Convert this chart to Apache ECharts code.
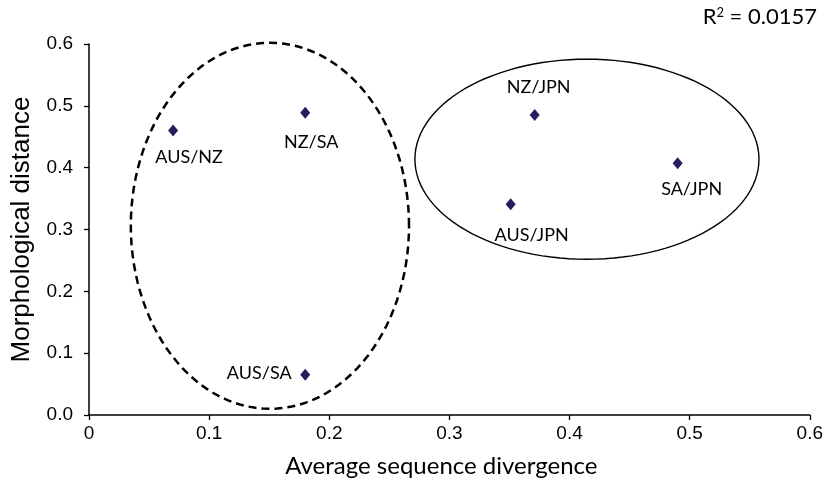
<!DOCTYPE html>
<html>
<head>
<meta charset="utf-8">
<script src="https://cdn.jsdelivr.net/npm/echarts@6/dist/echarts.min.js"></script>
<style>
  html, body { margin: 0; padding: 0; background: #fff; }
  #chart { width: 826px; height: 483px; }
</style>
</head>
<body>
<div id="chart"></div>
<script>
// pairwise comparisons
var pairNames = ['AUS/NZ', 'NZ/SA', 'AUS/SA', 'NZ/JPN', 'AUS/JPN', 'SA/JPN'];
var seqDivergence = [0.07, 0.18, 0.18, 0.371, 0.351, 0.49];
var morphDistance = [0.46, 0.489, 0.065, 0.485, 0.341, 0.407];

// grouping ellipses, in data units: [centre x, centre y, radius x, radius y]
var groupDashed = [0.1506, 0.306, 0.1158, 0.296];
var groupSolid = [0.4145, 0.4137, 0.1432, 0.1618];

var xTicks = [0, 0.1, 0.2, 0.3, 0.4, 0.5, 0.6];
var yTicks = [0, 0.1, 0.2, 0.3, 0.4, 0.5, 0.6];

// label nudges (px) per point
var labelOffsets = [[16, 27], [6, 30], [-46, -2], [4, -28], [21, 31], [14, 26]];

var chart = echarts.init(document.getElementById('chart'));

function ellipseItem(params, api) {
  var cx = api.value(0), cy = api.value(1), rx = api.value(2), ry = api.value(3);
  var pts = [];
  for (var i = 0; i < 120; i++) {
    var t = i / 120 * Math.PI * 2;
    pts.push(api.coord([cx + rx * Math.cos(t), cy + ry * Math.sin(t)]));
  }
  var dashed = api.value(4) === 1;
  return {
    type: 'polygon',
    shape: { points: pts },
    style: {
      fill: null,
      stroke: '#000',
      lineWidth: dashed ? 2.5 : 1.4,
      lineDash: dashed ? [8, 5] : null
    },
    silent: true
  };
}

var axisFont = 'Liberation Sans, Arial, sans-serif';
var labelFont = 'Lato, sans-serif';

chart.setOption({
  animation: false,
  grid: { left: 89, right: 14, top: 44, bottom: 68 },
  graphic: [{
    type: 'text',
    right: 9,
    top: 6,
    style: {
      rich: {
        n: { fontSize: 22, fontFamily: labelFont, fill: '#000' },
        s: { fontSize: 13, fontFamily: labelFont, fill: '#000', verticalAlign: 'top', padding: [0, 0, 9, 0] }
      },
      text: '{n|R}{s|2}{n| = 0.0157}'
    }
  }],
  xAxis: {
    type: 'value',
    min: 0, max: 0.6, interval: 0.1,
    name: 'Average sequence divergence',
    nameLocation: 'middle',
    nameGap: 39,
    nameTextStyle: { fontSize: 24, fontFamily: labelFont, color: '#000', padding: [0, 16, 0, 0] },
    splitLine: { show: false },
    axisLine: { lineStyle: { color: '#000', width: 1.5 } },
    axisTick: { show: true, length: 5, lineStyle: { color: '#000', width: 1.3 } },
    axisLabel: {
      fontSize: 19, fontFamily: axisFont, color: '#000', margin: 9,
      formatter: function (v) { return v === 0 ? '0' : v.toFixed(1); }
    }
  },
  yAxis: {
    type: 'value',
    min: 0, max: 0.6, interval: 0.1,
    name: 'Morphological distance',
    nameLocation: 'middle',
    nameGap: 54,
    nameTextStyle: { fontSize: 26, fontFamily: axisFont, color: '#000' },
    splitLine: { show: false },
    axisLine: { show: true, lineStyle: { color: '#000', width: 1.5 } },
    axisTick: { show: true, length: 5, lineStyle: { color: '#000', width: 1.3 } },
    axisLabel: {
      fontSize: 19, fontFamily: axisFont, color: '#000', margin: 16,
      formatter: function (v) { return v.toFixed(1); }
    }
  },
  series: [
    {
      type: 'custom',
      renderItem: ellipseItem,
      clip: false,
      silent: true,
      z: 1,
      data: [groupDashed.concat([1]), groupSolid.concat([0])]
    },
    {
      type: 'scatter',
      symbol: 'diamond',
      symbolSize: [10, 12],
      z: 3,
      itemStyle: { color: '#2a1a5e', opacity: 1 },
      data: pairNames.map(function (n, i) {
        return {
          name: n,
          value: [seqDivergence[i], morphDistance[i]],
          label: {
            show: true,
            position: 'inside',
            offset: labelOffsets[i],
            formatter: n,
            fontSize: 18,
            fontFamily: labelFont,
            color: '#000',
            opacity: 1
          }
        };
      })
    }
  ]
});
</script>
</body>
</html>
